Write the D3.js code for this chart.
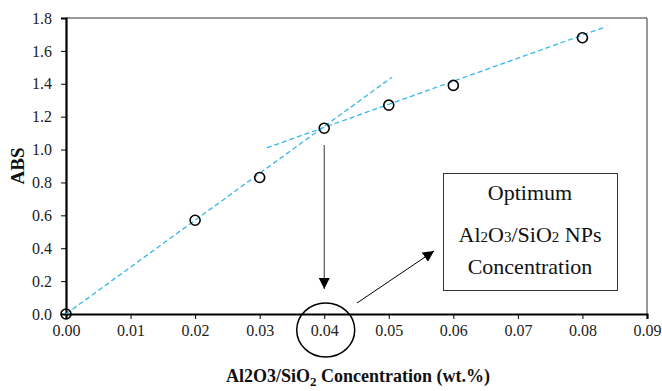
<!DOCTYPE html>
<html><head><meta charset="utf-8">
<script src="https://cdn.jsdelivr.net/npm/d3@7"></script>
</head>
<body style="margin:0;background:#fff">
<svg id="c" width="662" height="391" font-family="Liberation Serif"></svg>
<script>
const conc = [0.00, 0.02, 0.03, 0.04, 0.05, 0.06, 0.08];
const abs  = [0.00, 0.57, 0.83, 1.13, 1.27, 1.39, 1.68];
const xTicks = [0,0.01,0.02,0.03,0.04,0.05,0.06,0.07,0.08,0.09];
const yTicks = [0,0.2,0.4,0.6,0.8,1.0,1.2,1.4,1.6,1.8];
// trend lines (start/end in data units)
const trend1 = [[0.0, 0.0],[0.0505, 1.44]];
const trend2 = [[0.0311, 1.01],[0.0835, 1.745]];
const optimum = 0.04;

const FF = "Liberation Serif";
const svg = d3.select("#c");
const x = d3.scaleLinear().domain([0,0.09]).range([66,647]);
const y = d3.scaleLinear().domain([0,1.8]).range([314,18]);

// frame top/right
svg.append("path").attr("d",`M${x(0)},${y(1.8)}H${x(0.09)}V${y(0)}`)
  .attr("fill","none").attr("stroke","#333").attr("stroke-width",1);

const xa = svg.append("g").attr("transform",`translate(0,${y(0)})`)
  .call(d3.axisBottom(x).tickValues(xTicks).tickFormat(d3.format(".2f")).tickSize(5).tickPadding(6));
const ya = svg.append("g").attr("transform",`translate(${x(0)},0)`)
  .call(d3.axisLeft(y).tickValues(yTicks).tickFormat(d3.format(".1f")).tickSize(5).tickPadding(9));
[xa,ya].forEach(a=>{
  a.attr("font-family",FF).attr("font-size",16);
  a.select(".domain").attr("stroke","#000").attr("stroke-width",2.2);
  a.selectAll(".tick line").attr("stroke","#000").attr("stroke-width",1);
  a.selectAll("text").attr("font-family",FF).attr("font-size",16).attr("fill","#222");
});

// trend lines
const line = d3.line().x(d=>x(d[0])).y(d=>y(d[1]));
[trend1,trend2].forEach(t=>{
  svg.append("path").attr("d",line(t)).attr("fill","none")
    .attr("stroke","#33B8EC").attr("stroke-width",1.3).attr("stroke-dasharray","5,3");
});

// markers
svg.selectAll("circle.pt").data(conc.map((c,i)=>[c,abs[i]])).enter().append("circle")
  .attr("class","pt").attr("cx",d=>x(d[0])).attr("cy",d=>y(d[1])).attr("r",5)
  .attr("fill","none").attr("stroke","#000").attr("stroke-width",1.6);

// arrow marker
svg.append("defs").append("marker").attr("id","ah").attr("viewBox","0 0 10 10")
  .attr("refX",10).attr("refY",5).attr("markerWidth",11).attr("markerHeight",11)
  .attr("markerUnits","userSpaceOnUse").attr("orient","auto")
  .append("path").attr("d","M0,0L10,5L0,10Z").attr("fill","#000");

svg.append("line").attr("x1",x(optimum)).attr("y1",145).attr("x2",x(optimum)).attr("y2",289)
  .attr("stroke","#333").attr("stroke-width",1).attr("marker-end","url(#ah)");
svg.append("line").attr("x1",357).attr("y1",303).attr("x2",434).attr("y2",251)
  .attr("stroke","#000").attr("stroke-width",1).attr("marker-end","url(#ah)");

// ellipse around 0.04
svg.append("ellipse").attr("cx",x(optimum)+1.5).attr("cy",330).attr("rx",29).attr("ry",27)
  .attr("fill","none").attr("stroke","#000").attr("stroke-width",1.5);

// annotation box
svg.append("rect").attr("x",443.5).attr("y",173.5).attr("width",174).attr("height",117)
  .attr("fill","#fff").attr("stroke","#333").attr("stroke-width",1);
const bx = 530;
svg.append("text").attr("x",bx).attr("y",200).attr("text-anchor","middle").attr("font-family",FF).attr("font-size",22).attr("fill","#111").text("Optimum");
const t2 = svg.append("text").attr("x",bx).attr("y",242).attr("text-anchor","middle").attr("font-family",FF).attr("font-size",22).attr("fill","#111");
[["Al",0],["2",1],["O",0],["3",1],["/SiO",0],["2",1],[" NPs",0]].forEach(([s,sub])=>{
  t2.append("tspan").text(s).attr("font-size",sub?15:22);
});
svg.append("text").attr("x",bx).attr("y",274).attr("text-anchor","middle").attr("font-family",FF).attr("font-size",22).attr("fill","#111").text("Concentration");

// axis titles
const xt = svg.append("text").attr("x",358).attr("y",382).attr("text-anchor","middle").attr("font-family",FF)
  .attr("font-size",18).attr("font-weight","bold").attr("fill","#111");
xt.append("tspan").text("Al2O3/SiO");
xt.append("tspan").text("2").attr("font-size",13).attr("dy",4);
xt.append("tspan").text(" Concentration (wt.%)").attr("dy",-4);

svg.append("text").attr("transform","translate(24,166) rotate(-90)").attr("text-anchor","middle").attr("font-family",FF)
  .attr("font-size",19).attr("font-weight","bold").attr("fill","#111").text("ABS");
</script></body></html>
